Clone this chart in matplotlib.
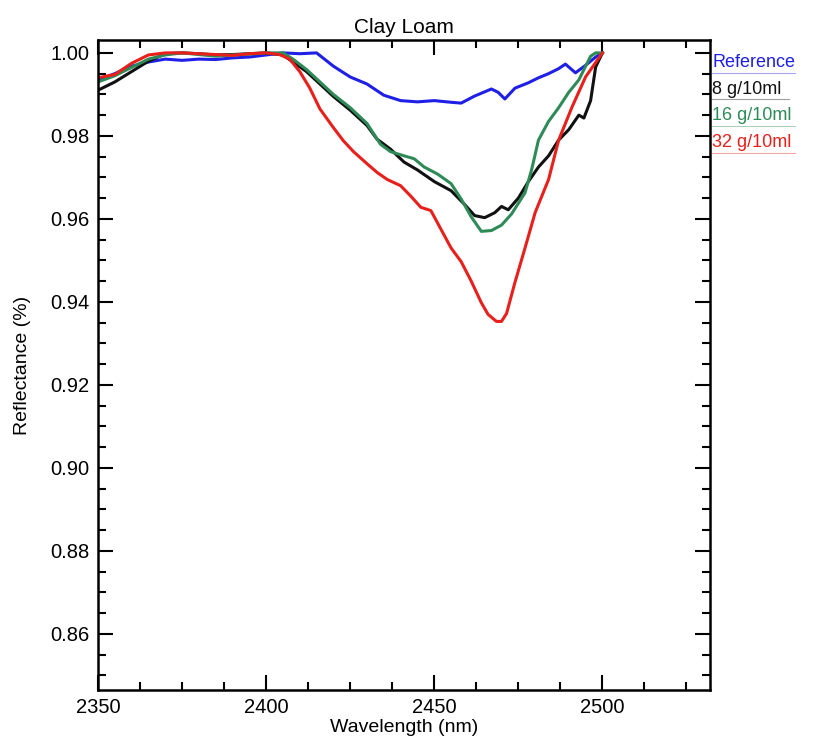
import numpy as np
import matplotlib.pyplot as plt
from matplotlib.ticker import MultipleLocator

plt.rcParams['font.family'] = ['Liberation Sans', 'DejaVu Sans']

# wavelength (nm) / reflectance
wl_ref = [2350, 2355, 2360, 2365, 2370, 2375, 2380, 2385, 2390, 2395, 2400, 2405, 2410,
          2415, 2420, 2425, 2430, 2435, 2440, 2445, 2450, 2455, 2458, 2462, 2467, 2469,
          2471, 2474, 2478, 2481, 2484, 2487, 2489, 2492, 2495, 2498, 2500]
refl_ref = [0.9935, 0.9950, 0.9968, 0.9978, 0.9985, 0.9982, 0.9985, 0.9984, 0.9988, 0.9990,
            0.9995, 1.0000, 0.9998, 1.0000, 0.9968, 0.9942, 0.9925, 0.9898, 0.9885, 0.9882,
            0.9885, 0.9881, 0.9879, 0.9896, 0.9913, 0.9905, 0.9889, 0.9915, 0.9928, 0.9940,
            0.9950, 0.9962, 0.9973, 0.9952, 0.9970, 0.9990, 1.0000]

wl_8 = [2350, 2355, 2360, 2365, 2370, 2375, 2380, 2385, 2390, 2395, 2400, 2405, 2408,
        2412, 2416, 2420, 2425, 2430, 2433, 2437, 2441, 2445, 2450, 2455, 2459, 2462,
        2465, 2468, 2470, 2472, 2475, 2478, 2481, 2484, 2487, 2490, 2493, 2494.5, 2496.5,
        2498, 2500]
refl_8 = [0.9910, 0.9930, 0.9955, 0.9980, 0.9998, 1.0000, 0.9998, 0.9995, 0.9996, 0.9998,
          1.0000, 0.9995, 0.9978, 0.9955, 0.9925, 0.9895, 0.9862, 0.9825, 0.9792, 0.9768,
          0.9737, 0.9718, 0.9690, 0.9668, 0.9635, 0.9608, 0.9603, 0.9615, 0.9630, 0.9622,
          0.9650, 0.9690, 0.9725, 0.9752, 0.9790, 0.9815, 0.9850, 0.9843, 0.9885, 0.9966,
          1.0000]

wl_16 = [2350, 2355, 2360, 2365, 2370, 2375, 2380, 2385, 2390, 2395, 2400, 2405, 2408,
         2412, 2416, 2420, 2425, 2430, 2434, 2437, 2441, 2444, 2447, 2451, 2455, 2458,
         2461, 2464, 2467, 2470, 2473, 2477, 2479, 2481, 2484, 2487, 2490, 2493, 2496.5,
         2498, 2500]
refl_16 = [0.9930, 0.9945, 0.9965, 0.9985, 0.9995, 1.0000, 0.9996, 0.9992, 0.9995, 0.9997,
           1.0000, 1.0000, 0.9985, 0.9960, 0.9930, 0.9900, 0.9868, 0.9830, 0.9780, 0.9762,
           0.9752, 0.9745, 0.9725, 0.9708, 0.9685, 0.9648, 0.9605, 0.9570, 0.9572, 0.9585,
           0.9612, 0.9663, 0.9720, 0.9790, 0.9835, 0.9868, 0.9905, 0.9935, 0.9992, 1.0000,
           1.0000]

wl_32 = [2350, 2355, 2360, 2365, 2370, 2375, 2380, 2385, 2390, 2395, 2400, 2404, 2407,
         2410, 2413, 2416, 2420, 2423, 2426, 2430, 2433, 2436, 2440, 2443, 2446, 2449,
         2452, 2455, 2458, 2461, 2464, 2466, 2468.5, 2470, 2471.5, 2474, 2477, 2480,
         2484, 2487, 2491, 2495, 2500]
refl_32 = [0.9940, 0.9948, 0.9975, 0.9995, 1.0000, 1.0000, 0.9998, 0.9996, 0.9994, 0.9998,
           1.0000, 0.9996, 0.9985, 0.9955, 0.9915, 0.9865, 0.9820, 0.9788, 0.9762, 0.9733,
           0.9712, 0.9695, 0.9680, 0.9655, 0.9628, 0.9620, 0.9575, 0.9530, 0.9497, 0.9450,
           0.9398, 0.9370, 0.9353, 0.9353, 0.9372, 0.9447, 0.9530, 0.9615, 0.9695, 0.9790,
           0.9870, 0.9942, 1.0000]

labels = ['Reference', '8 g/10ml', '16 g/10ml', '32 g/10ml']
colors = ['#1f1fe6', '#111111', '#2e8b57', '#e8201c']

fig = plt.figure(figsize=(8.14, 7.37), dpi=100)
ax = fig.add_axes([0.1204, 0.0638, 0.7518, 0.8819])

series = [(wl_ref, refl_ref), (wl_8, refl_8), (wl_16, refl_16), (wl_32, refl_32)]
for (x, y), c in zip(series, colors):
	ax.plot(x, y, color=c, lw=2.2)

ax.set_xlim(2350, 2532)
ax.set_ylim(0.8465, 1.0031)
ax.xaxis.set_major_locator(MultipleLocator(50))
ax.xaxis.set_minor_locator(MultipleLocator(12.5))
ax.yaxis.set_major_locator(MultipleLocator(0.02))
ax.yaxis.set_minor_locator(MultipleLocator(0.005))
ax.yaxis.set_major_formatter(plt.FormatStrFormatter('%.2f'))
ax.tick_params(which='both', direction='in', top=True, right=True, width=1.5, labelsize=14.5, pad=6)
ax.tick_params(which='major', length=11)
ax.tick_params(which='minor', length=6)
for s in ax.spines.values():
	s.set_linewidth(1.8)

ax.set_title('Clay Loam', fontsize=15, pad=5)
ax.set_xlabel('Wavelength (nm)', fontsize=14, labelpad=1)
ax.set_ylabel('Reflectance (%)', fontsize=14, labelpad=14)

# IDL-style legend right of the plot
for i, (lab, c) in enumerate(zip(labels, colors)):
	ty = 0.915 - i * 0.036
	t = fig.text(0.875, ty, lab, color=c, fontsize=13, va='center', ha='left')
	fig.add_artist(plt.Line2D([0.875, 0.875 + (0.102 if i != 1 else 0.094)], [ty - 0.014, ty - 0.014],
	                          color=c, lw=0.8, alpha=0.4, transform=fig.transFigure))

fig.savefig('out.png', dpi=100)
